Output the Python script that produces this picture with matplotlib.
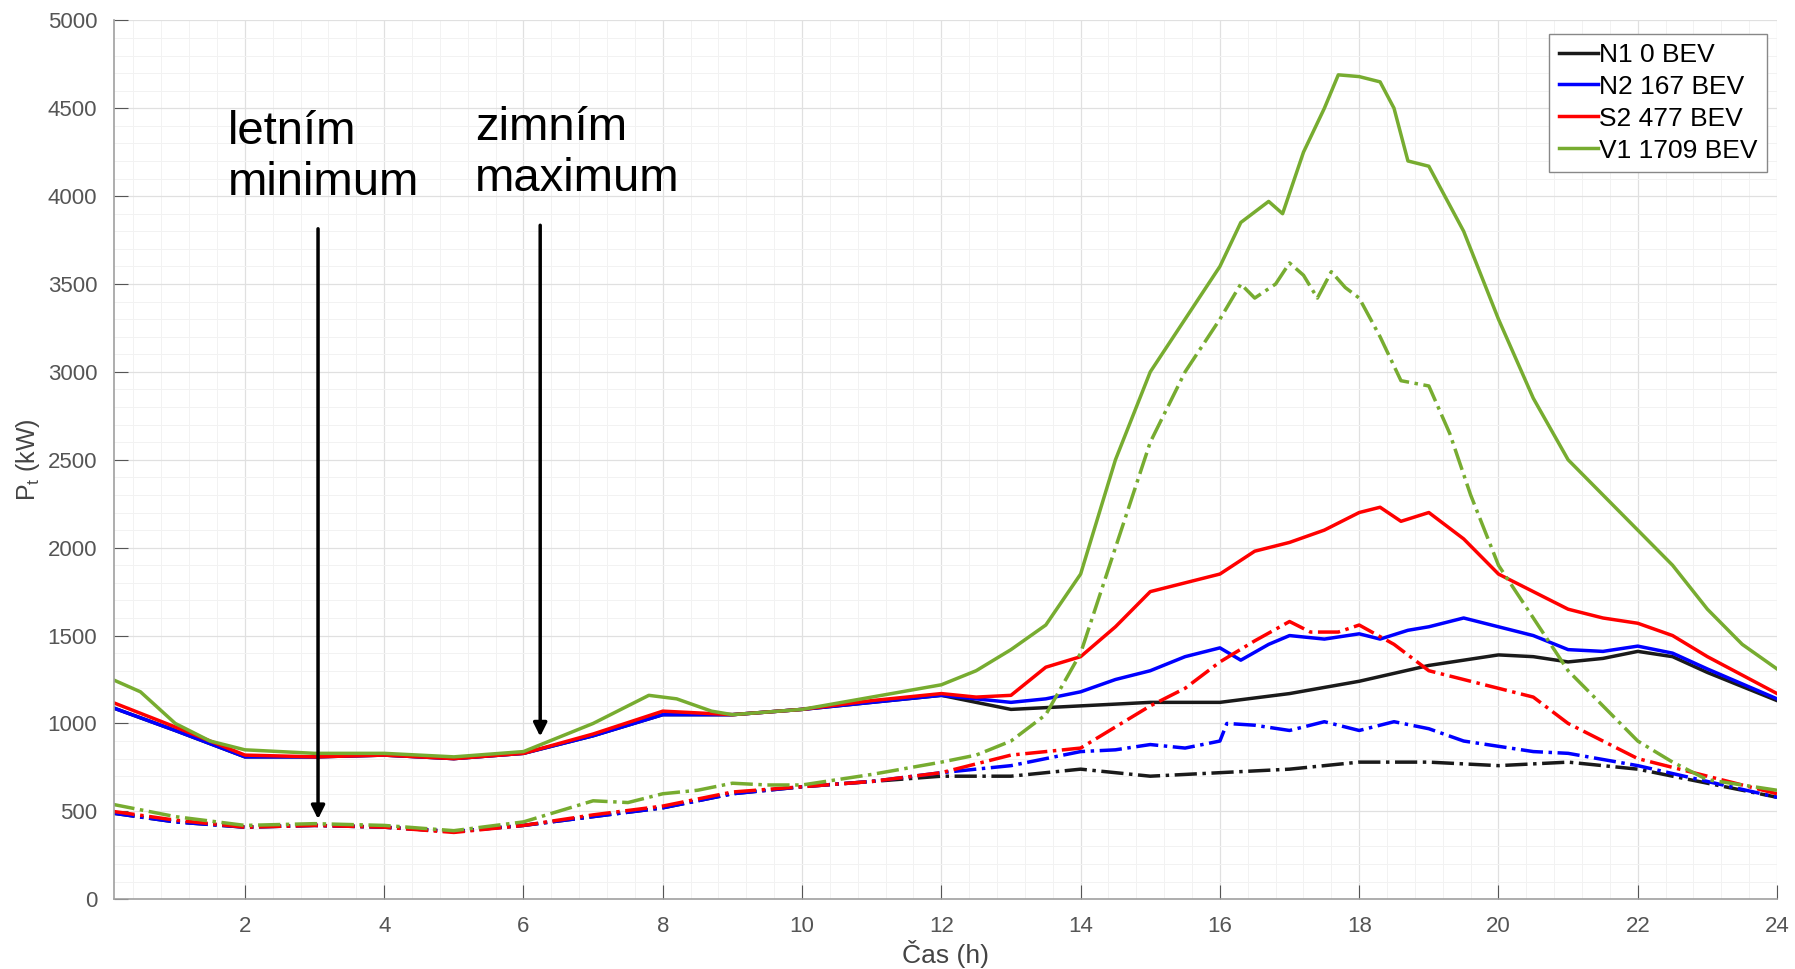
import matplotlib
matplotlib.use('Agg')
import matplotlib.pyplot as plt
from matplotlib.ticker import AutoMinorLocator

plt.rcParams['font.family'] = ['Liberation Sans', 'DejaVu Sans']

# time points (h) and load profiles (kW)
t_n1 = [0.1, 1, 2, 3, 4, 5, 6, 7, 8, 9, 10, 11, 12, 12.5, 13, 14, 15, 16, 17, 18, 19, 20, 20.5, 21, 21.5, 22, 22.5, 23, 24]
n1_max = [1090, 960, 810, 810, 820, 800, 830, 930, 1050, 1050, 1080, 1120, 1160, 1120, 1080, 1100, 1120, 1120, 1170, 1240, 1330, 1390, 1380, 1350, 1370, 1410, 1380, 1290, 1130]

t_n2 = [0.1, 1, 2, 3, 4, 5, 6, 7, 8, 9, 10, 11, 12, 12.5, 13, 13.5, 14, 14.5, 15, 15.5, 16, 16.3, 16.7, 17, 17.5, 18, 18.3, 18.7, 19, 19.5, 20, 20.5, 21, 21.5, 22, 22.5, 23, 24]
n2_max = [1090, 960, 810, 810, 820, 800, 830, 930, 1050, 1050, 1080, 1120, 1160, 1140, 1120, 1140, 1180, 1250, 1300, 1380, 1430, 1360, 1450, 1500, 1480, 1510, 1480, 1530, 1550, 1600, 1550, 1500, 1420, 1410, 1440, 1400, 1310, 1140]

t_s2 = [0.1, 1, 2, 3, 4, 5, 6, 7, 8, 9, 10, 11, 12, 12.5, 13, 13.5, 14, 14.5, 15, 15.5, 16, 16.5, 17, 17.5, 18, 18.3, 18.6, 19, 19.5, 20, 20.5, 21, 21.5, 22, 22.5, 23, 24]
s2_max = [1120, 980, 820, 810, 820, 800, 830, 940, 1070, 1050, 1080, 1130, 1170, 1150, 1160, 1320, 1380, 1550, 1750, 1800, 1850, 1980, 2030, 2100, 2200, 2230, 2150, 2200, 2050, 1850, 1750, 1650, 1600, 1570, 1500, 1380, 1170]

t_v1 = [0.1, 0.5, 1, 1.5, 2, 3, 4, 5, 6, 6.5, 7, 7.5, 7.8, 8.2, 8.7, 9, 10, 11, 12, 12.5, 13, 13.5, 14, 14.5, 15, 15.5, 16, 16.3, 16.7, 16.9, 17.2, 17.5, 17.7, 18, 18.3, 18.5, 18.7, 19, 19.5, 20, 20.5, 21, 21.5, 22, 22.5, 23, 23.5, 24]
v1_max = [1250, 1180, 1000, 900, 850, 830, 830, 810, 840, 920, 1000, 1100, 1160, 1140, 1070, 1050, 1080, 1150, 1220, 1300, 1420, 1560, 1850, 2500, 3000, 3300, 3600, 3850, 3970, 3900, 4250, 4500, 4690, 4680, 4650, 4500, 4200, 4170, 3800, 3300, 2850, 2500, 2300, 2100, 1900, 1650, 1450, 1310]

t_n1_min = [0.1, 1, 2, 3, 4, 5, 6, 7, 8, 9, 10, 11, 12, 13, 14, 15, 16, 17, 18, 19, 20, 21, 22, 23, 24]
n1_min = [490, 440, 410, 420, 410, 385, 420, 470, 520, 600, 640, 670, 700, 700, 740, 700, 720, 740, 780, 780, 760, 780, 740, 660, 580]

t_n2_min = [0.1, 1, 2, 3, 4, 5, 6, 7, 8, 9, 10, 11, 12, 13, 13.5, 14, 14.5, 15, 15.5, 16, 16.1, 16.5, 17, 17.5, 18, 18.5, 19, 19.5, 20, 20.5, 21, 22, 23, 24]
n2_min = [490, 440, 410, 420, 410, 385, 420, 470, 520, 600, 640, 670, 720, 760, 800, 840, 850, 880, 860, 900, 1000, 990, 960, 1010, 960, 1010, 970, 900, 870, 840, 830, 760, 670, 580]

t_s2_min = [0.1, 1, 2, 3, 4, 5, 6, 7, 8, 9, 10, 11, 12, 12.5, 13, 13.5, 14, 14.5, 15, 15.5, 16, 16.5, 17, 17.3, 17.7, 18, 18.5, 19, 19.5, 20, 20.5, 21, 21.5, 22, 23, 24]
s2_min = [500, 450, 410, 420, 410, 380, 420, 480, 530, 610, 640, 670, 720, 770, 820, 840, 860, 980, 1100, 1200, 1350, 1470, 1580, 1520, 1520, 1560, 1450, 1300, 1250, 1200, 1150, 1000, 900, 800, 700, 600]

t_v1_min = [0.1, 1, 2, 3, 4, 5, 6, 6.5, 7, 7.5, 8, 8.5, 9, 9.5, 10, 11, 12, 12.5, 13, 13.5, 14, 14.5, 15, 15.5, 16, 16.3, 16.5, 16.8, 17, 17.2, 17.4, 17.6, 17.8, 18, 18.3, 18.6, 19, 19.3, 19.6, 20, 20.5, 21, 21.5, 22, 22.5, 23, 24]
v1_min = [540, 470, 420, 430, 420, 390, 440, 500, 560, 550, 600, 620, 660, 650, 650, 710, 780, 820, 900, 1050, 1400, 2000, 2600, 3000, 3300, 3500, 3420, 3500, 3620, 3550, 3420, 3570, 3480, 3420, 3200, 2950, 2920, 2650, 2300, 1900, 1600, 1300, 1100, 900, 780, 680, 620]

labels = ['N1 0 BEV', 'N2 167 BEV', 'S2 477 BEV', 'V1 1709 BEV']
colors = ['#1a1a1a', '#0000ff', '#ff0000', '#77ac30']

fig = plt.figure(figsize=(17.95, 9.69), dpi=100)
ax = fig.add_axes([0.0635, 0.072, 0.9265, 0.907])

max_series = [(t_n1, n1_max), (t_n2, n2_max), (t_s2, s2_max), (t_v1, v1_max)]
min_series = [(t_n1_min, n1_min), (t_n2_min, n2_min), (t_s2_min, s2_min), (t_v1_min, v1_min)]

for (t, y), c, lab in zip(max_series, colors, labels):
    ax.plot(t, y, color=c, lw=2.5, label=lab)
for (t, y), c in zip(min_series, colors):
    ax.plot(t, y, color=c, lw=2.5, ls='-.')

ax.set_xlim(0.12, 24)
ax.set_ylim(0, 5000)
ax.set_xticks(range(2, 25, 2))
ax.set_yticks(range(0, 5001, 500))
ax.xaxis.set_minor_locator(AutoMinorLocator(5))
ax.yaxis.set_minor_locator(AutoMinorLocator(5))
ax.grid(which='major', color='#e0e0e0', lw=0.9)
ax.grid(which='minor', color='#f2f2f2', lw=0.7)
ax.set_axisbelow(True)
ax.tick_params(which='major', direction='in', length=10, colors='#555555', labelsize=16, pad=12)
ax.tick_params(which='minor', length=0)
for s in ['top', 'right']:
    ax.spines[s].set_visible(False)
for s in ['left', 'bottom']:
    ax.spines[s].set_color('#a0a0a0')
    ax.spines[s].set_linewidth(1.2)

ax.set_xlabel('Čas (h)', fontsize=19, color='#444444', labelpad=2)
ax.set_ylabel('P$_\\mathregular{t}$ (kW)', fontsize=18, color='#444444', labelpad=4)

leg = ax.legend(loc='upper right', fontsize=19, handlelength=1.5, handletextpad=0.05,
                borderpad=0.35, labelspacing=0.3, fancybox=False, framealpha=1,
                bbox_to_anchor=(1.002, 1.0))
leg.get_frame().set_edgecolor('#888888')

# annotations
ax.text(1.76, 4490, 'letním\nminimum', fontsize=34, va='top', ha='left', linespacing=1.2)
ax.text(5.3, 4510, 'zimním\nmaximum', fontsize=34, va='top', ha='left', linespacing=1.2)
ax.annotate('', xy=(3.05, 440), xytext=(3.05, 3830),
            arrowprops=dict(arrowstyle='-|>', color='black', lw=2.5, mutation_scale=20))
ax.annotate('', xy=(6.24, 910), xytext=(6.24, 3850),
            arrowprops=dict(arrowstyle='-|>', color='black', lw=2.5, mutation_scale=20))

plt.savefig('out.png', dpi=100)
